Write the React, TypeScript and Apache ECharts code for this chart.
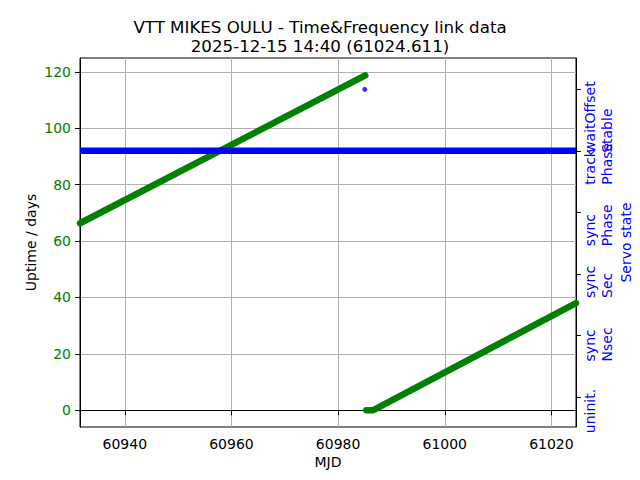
import React, { useEffect, useRef } from "react";
import * as echarts from "echarts";

// ---- data ----
const titleLines = ["VTT MIKES OULU - Time&Frequency link data", "2025-12-15 14:40 (61024.611)"];
const xTicks = [60940, 60960, 60980, 61000, 61020];
const uptimeTicks = [0, 20, 40, 60, 80, 100, 120];
const servoTicks = [0, 1, 2, 3, 4, 5];
const servoStates = ["uninit.", "sync\nNsec", "sync\nSec", "sync\nPhase", "track\nPhase", "waitOffset\nStable"];
// label groups drawn on two stacked right axes so that no label hides another
const servoLabelSetA = [0, 2, 3, 5];
const servoLabelSetB = [1, 4];

// uptime (days) before the restart
const uptimeMjd1 = [60931.6, 60985.1];
const uptimeDays1 = [66.3, 118.7];
// uptime after the restart
const uptimeMjd2 = [60985.3, 60986.6, 61024.611];
const uptimeDays2 = [0, 0, 38.0];
// servo state
const servoMjd = [60931.6, 61024.611];
const servoVal = [4, 4];
const servoSpikeMjd = [60985.0];
const servoSpikeVal = [5];

const xRange = [60931.6, 61024.611];
const uptimeRange = [-5.95, 124.9];
const servoRange = [-0.49, 5.51];

const GREEN = "#008000";
const BLUE = "#0000ff";
const FONT = "DejaVu Sans";
const FS = 14;

const zip = (a: number[], b: number[]) => a.map((v, i) => [v, b[i]]);

function textWidth(s: string): number {
  const ctx = document.createElement("canvas").getContext("2d");
  if (!ctx) return s.length * 8;
  ctx.font = `${FS}px "${FONT}"`;
  return ctx.measureText(s).width;
}

export default function App() {
  const ref = useRef<HTMLDivElement>(null);
  useEffect(() => {
    if (!ref.current) return;
    const chart = echarts.init(ref.current, null, { renderer: "svg" });

    // rotated two-line labels: lines start-aligned, block end placed just past the tick
    const topGap = 8;
    const rich: Record<string, any> = {};
    servoStates.forEach((s, i) => {
      const w = Math.max(...s.split("\n").map(textWidth));
      rich["s" + i] = {
        width: Math.max(2 * w - 2 * topGap, w),
        align: "left",
        fontFamily: FONT,
        fontSize: FS,
        color: BLUE,
        lineHeight: 17,
      };
    });
    const servoFormatter = (v: number) => {
      const i = Math.round(v);
      const s = servoStates[i];
      if (!s) return "";
      return s
        .split("\n")
        .map((l) => `{s${i}|${l}}`)
        .join("\n");
    };
    const servoLabel = (values: number[]) => ({
      customValues: values,
      rotate: 90,
      margin: 5,
      hideOverlap: false,
      showMinLabel: true,
      showMaxLabel: true,
      fontFamily: FONT,
      fontSize: FS,
      lineHeight: 17,
      color: BLUE,
      rich,
      formatter: servoFormatter,
    });

    chart.setOption({
      animation: false,
      backgroundColor: "#fff",
      textStyle: { fontFamily: FONT },
      title: {
        text: titleLines.join("\n"),
        left: "center",
        top: 13,
        textStyle: { fontFamily: FONT, fontSize: 16.67, fontWeight: "normal", color: "#000", lineHeight: 19 },
      },
      grid: {
        left: 80,
        right: 64,
        top: 58,
        bottom: 53,
        outerBoundsMode: "none",
        containLabel: false,
        show: true,
        borderColor: "#000",
        borderWidth: 1,
        backgroundColor: "transparent",
      },
      xAxis: {
        type: "value",
        min: xRange[0],
        max: xRange[1],
        splitNumber: 5,
        name: "MJD",
        nameLocation: "middle",
        nameGap: 28,
        nameMoveOverlap: false,
        nameTextStyle: { fontFamily: FONT, fontSize: FS, color: "#000" },
        axisLine: { show: true, lineStyle: { color: "#000", width: 1 } },
        axisTick: { show: true, length: 5, customValues: xTicks, lineStyle: { color: "#000" } },
        axisLabel: { customValues: xTicks, margin: 10, hideOverlap: false, fontFamily: FONT, fontSize: FS, color: "#000", formatter: (v: number) => String(v) },
        splitLine: { show: true, lineStyle: { color: "#b0b0b0", width: 1 } },
      },
      yAxis: [
        {
          type: "value",
          position: "left",
          min: uptimeRange[0],
          max: uptimeRange[1],
          splitNumber: 6,
          name: "Uptime / days",
          nameLocation: "middle",
          nameGap: 42,
          nameMoveOverlap: false,
          nameRotate: 90,
          nameTextStyle: { fontFamily: FONT, fontSize: FS, color: "#000" },
          axisLine: { show: true, lineStyle: { color: "#000", width: 1 } },
          axisTick: { show: true, length: 5, customValues: uptimeTicks, lineStyle: { color: "#000" } },
          axisLabel: { customValues: uptimeTicks, margin: 9, hideOverlap: false, fontFamily: FONT, fontSize: FS, color: GREEN, formatter: (v: number) => String(v) },
          splitLine: { show: true, lineStyle: { color: "#b0b0b0", width: 1 } },
        },
        {
          type: "value",
          position: "right",
          min: servoRange[0],
          max: servoRange[1],
          name: "Servo state",
          nameLocation: "middle",
          nameGap: 43,
          nameMoveOverlap: false,
          nameRotate: 90,
          nameTextStyle: { fontFamily: FONT, fontSize: FS, color: BLUE },
          axisLine: { show: true, lineStyle: { color: "#000", width: 1 } },
          axisTick: { show: true, length: 5, customValues: servoTicks, lineStyle: { color: "#000" } },
          axisLabel: servoLabel(servoLabelSetA),
          splitLine: { show: false },
        },
        {
          type: "value",
          position: "right",
          offset: 0,
          min: servoRange[0],
          max: servoRange[1],
          axisLine: { show: false },
          axisTick: { show: false },
          axisLabel: servoLabel(servoLabelSetB),
          splitLine: { show: false },
        },
      ],
      series: [
        {
          type: "line",
          yAxisIndex: 0,
          data: zip(uptimeMjd1, uptimeDays1),
          showSymbol: false,
          lineStyle: { color: GREEN, width: 6.5, cap: "round", join: "round" },
          z: 2,
        },
        {
          type: "line",
          yAxisIndex: 0,
          data: zip(uptimeMjd2, uptimeDays2),
          showSymbol: false,
          lineStyle: { color: GREEN, width: 6.5, cap: "round", join: "round" },
          z: 2,
        },
        {
          type: "line",
          yAxisIndex: 1,
          data: zip(servoMjd, servoVal),
          showSymbol: false,
          lineStyle: { color: BLUE, width: 6.5 },
          z: 3,
        },
        {
          type: "scatter",
          yAxisIndex: 1,
          data: zip(servoSpikeMjd, servoSpikeVal),
          symbolSize: 5,
          itemStyle: { color: BLUE },
          z: 3,
        },
      ],
    });
    return () => chart.dispose();
  }, []);
  return <div ref={ref} style={{ width: 640, height: 480, position: "absolute", left: 0, top: 0 }} />;
}
